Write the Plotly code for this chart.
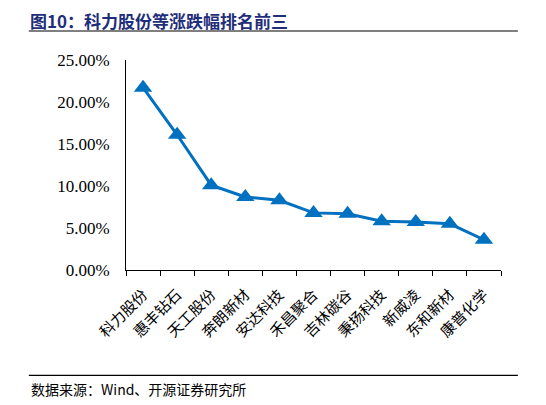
import plotly.graph_objs as go

# 涨跌幅（%）
companies = ["科力股份", "惠丰钻石", "天工股份", "奔朗新材", "安达科技", "禾昌聚合",
             "吉林碳谷", "秉扬科技", "新威凌", "东和新材", "康普化学"]
changes = [21.7, 16.1, 10.1, 8.7, 8.3, 6.8, 6.7, 5.8, 5.7, 5.5, 3.6]

title_text = "图10：科力股份等涨跌幅排名前三"
source_text = "数据来源：Wind、开源证券研究所"

blue = "#0070C0"
serif = "Liberation Serif, Times New Roman, serif"
cjk = "Noto Sans CJK SC"

fig = go.Figure()

fig.add_trace(go.Scatter(
    x=companies, y=[v / 100 for v in changes],
    mode="lines+markers",
    line=dict(color=blue, width=3),
    marker=dict(symbol="triangle-up", size=16, color=blue),
    showlegend=False,
))

# page body has an 8px margin, so the figure is 8px smaller than the window
fig.update_layout(
    width=538, height=397,
    margin=dict(l=118, r=45, t=52, b=135),
    plot_bgcolor="white", paper_bgcolor="white",
)

fig.update_xaxes(
    type="category", range=[-0.5, 10.5],
    showline=True, linecolor="black", linewidth=1,
    ticks="outside", tickson="boundaries", ticklen=5, tickcolor="black",
    tickangle=-45, tickfont=dict(family=cjk, size=15, color="black"),
    ticklabelstandoff=9,
    showgrid=False,
)
fig.update_yaxes(
    range=[0, 0.25], dtick=0.05, tickformat=".2%",
    showline=True, linecolor="black", linewidth=1,
    ticks="", showgrid=False, zeroline=False,
    ticklabelstandoff=12,
    tickfont=dict(family=serif, size=17, color="black"),
)

# title + rules
fig.add_annotation(
    text="<b>" + title_text + "</b>", xref="paper", yref="paper",
    x=-0.259, y=1.186, xanchor="left", yanchor="middle", showarrow=False,
    borderpad=0,
    font=dict(family=cjk, size=17, color="#1F2E7A"),
)
fig.add_shape(type="line", xref="paper", yref="paper",
              x0=-0.259, x1=1.045, y0=1.138, y1=1.138,
              line=dict(color="black", width=1.2))
fig.add_shape(type="line", xref="paper", yref="paper",
              x0=-0.259, x1=1.045, y0=-0.502, y1=-0.502,
              line=dict(color="black", width=1.2))
fig.add_annotation(
    text=source_text, xref="paper", yref="paper",
    x=-0.259, y=-0.565, xanchor="left", yanchor="middle", showarrow=False,
    font=dict(family=cjk, size=14, color="black"),
)

fig.write_html("out.html")
